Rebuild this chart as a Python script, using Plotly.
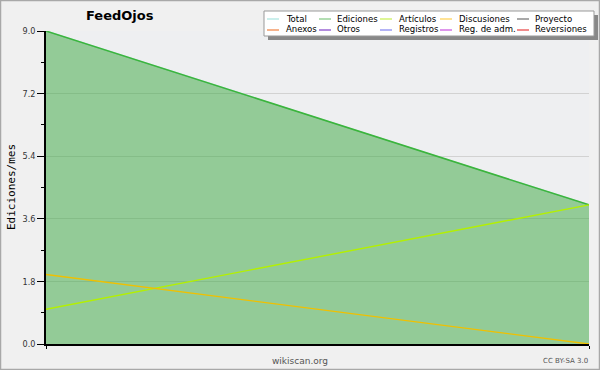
import plotly.graph_objects as go

months = ["m1", "m2"]
total = [9, 4]
ediciones = [9, 4]
articulos = [1, 4]
discusiones = [2, 0]

y_ticks = [0, 1.8, 3.6, 5.4, 7.2, 9.0]

legend_rows = [
    [("Total", "#a8e4e0"), ("Ediciones", "#80c880"), ("Artículos", "#c8f050"), ("Discusiones", "#ffd050"), ("Proyecto", "#707070")],
    [("Anexos", "#f08040"), ("Otros", "#8040c8"), ("Registros", "#8080f0"), ("Reg. de adm.", "#c850e0"), ("Reversiones", "#e84040")],
]

xs = [0, 1]
fig = go.Figure()
fig.add_trace(go.Scatter(x=xs, y=total, mode="lines", line=dict(color="#a8e4e0", width=1.3), hoverinfo="skip"))
fig.add_trace(go.Scatter(x=xs, y=ediciones, mode="lines", fill="tozeroy",
                         fillcolor="rgba(56,167,61,0.5)", line=dict(color="#3cb43c", width=1.5)))
fig.add_trace(go.Scatter(x=xs, y=articulos, mode="lines", line=dict(color="#b4f000", width=1.4)))
fig.add_trace(go.Scatter(x=xs, y=discusiones, mode="lines", line=dict(color="#f0c000", width=1.4)))

font = "DejaVu Sans"
fig.update_layout(
    width=600, height=370,
    margin=dict(l=46, r=11, t=31, b=26, autoexpand=False),
    paper_bgcolor="#f0f0f0", plot_bgcolor="#eeeff1",
    showlegend=False,
    font=dict(family=font, size=9, color="#333"),
    xaxis=dict(range=[0, 1], showticklabels=False, showgrid=False, zeroline=False, automargin=False,
               showline=True, linecolor="#000", linewidth=1.5,
               tickvals=[0, 1], ticks="outside", ticklen=3, tickcolor="#000"),
    yaxis=dict(range=[0, 9], tickvals=y_ticks, ticktext=[f"{v:.1f}" for v in y_ticks], automargin=False,
               ticks="outside", ticklen=7, tickcolor="#000", tickwidth=1,
               showline=True, linecolor="#000", linewidth=1.5, zeroline=False,
               gridcolor="#d2d2d2", gridwidth=1,
               minor=dict(dtick=0.9, tick0=0, ticks="outside", ticklen=3, tickcolor="#000", showgrid=False),
               tickfont=dict(family="DejaVu Sans Condensed", size=9, color="#333")),
)

def px(x):
    return (x - 46) / 543

def py(y):
    return 1 - (y - 31) / 313

shapes = []
ann = []
# y title
ann.append(dict(text="Ediciones/mes", xref="paper", yref="paper", x=px(11), y=py(187), textangle=-90,
                xanchor="center", yanchor="middle", showarrow=False,
                font=dict(family="DejaVu Sans Mono", size=11, color="#000")))
# title
ann.append(dict(text="<b>FeedOjos</b>", xref="paper", yref="paper", x=px(120), y=py(15),
                xanchor="center", yanchor="middle", showarrow=False,
                font=dict(family=font, size=13, color="#000")))
# footer
ann.append(dict(text="wikiscan.org", xref="paper", yref="paper", x=px(300), y=py(361),
                xanchor="center", yanchor="middle", showarrow=False, font=dict(family=font, size=9, color="#555")))
ann.append(dict(text="CC BY-SA 3.0", xref="paper", yref="paper", x=px(590), y=py(361),
                xanchor="right", yanchor="middle", showarrow=False, font=dict(family=font, size=7, color="#555")))

# legend box with shadow
shapes.append(dict(type="rect", xref="paper", yref="paper", x0=px(268), x1=px(598), y0=py(40), y1=py(15),
                   fillcolor="#888888", line=dict(width=0), layer="above"))
shapes.append(dict(type="rect", xref="paper", yref="paper", x0=px(264), x1=px(594), y0=py(36), y1=py(11),
                   fillcolor="#ffffff", line=dict(color="#999", width=1), layer="above"))
line_x = [267, 319, 380, 440, 517]
text_x = [284, 335, 397, 457, 533]
row_y = [18, 29]
for r, row in enumerate(legend_rows):
    for c, (name, color) in enumerate(row):
        shapes.append(dict(type="line", xref="paper", yref="paper", x0=px(line_x[c]), x1=px(line_x[c] + 12),
                           y0=py(row_y[r] + 1), y1=py(row_y[r] + 1), line=dict(color=color, width=1.2), layer="above"))
        ann.append(dict(text=name, xref="paper", yref="paper", x=px(text_x[c]), y=py(row_y[r]),
                        xanchor="left", yanchor="middle", showarrow=False,
                        font=dict(family="DejaVu Sans Condensed", size=9.5, color="#000")))

# outer frame
shapes.append(dict(type="rect", xref="paper", yref="paper", x0=px(0.5), x1=px(599.5), y0=py(369.5), y1=py(0.5),
                   line=dict(color="#a8a8a8", width=1.5), layer="above"))

fig.update_layout(shapes=shapes, annotations=ann)
fig.write_html("out.html", config={"displayModeBar": False},
               post_script="document.body.style.margin='0px';document.body.style.overflow='hidden';")
